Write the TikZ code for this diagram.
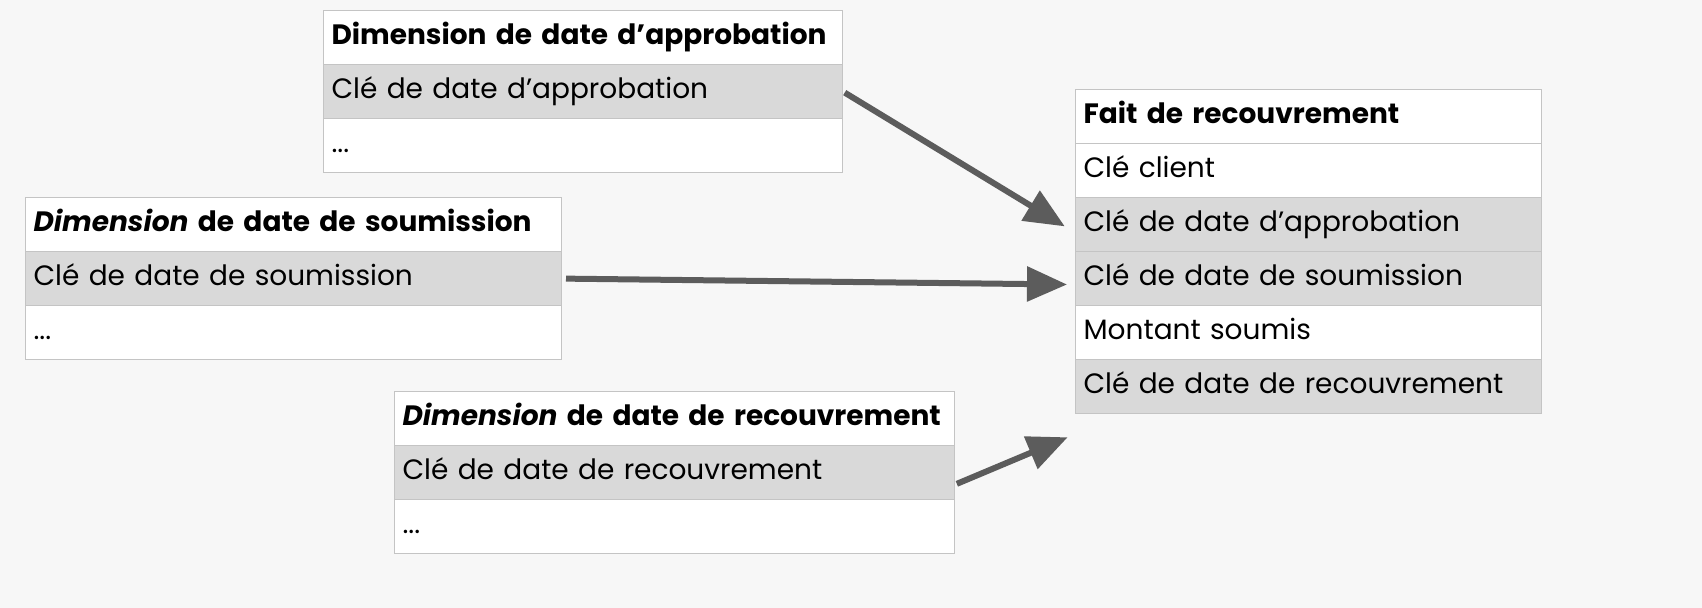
\documentclass[tikz,border=0pt]{standalone}
\usepackage{fontspec}
\setmainfont{Poppins}
\usetikzlibrary{arrows.meta}
\definecolor{rowgray}{HTML}{D9D9D9}
\definecolor{bordergray}{HTML}{C4C4C4}
\definecolor{arrowgray}{HTML}{5C5C5C}
\begin{document}
\begin{tikzpicture}[x=0.5pt,y=-0.5pt,
  cell/.style={draw=bordergray,line width=0.6pt,anchor=north west,minimum height=27pt,inner xsep=4pt,text height=10pt,text depth=3pt,align=left,text width=#1,font=\fontsize{14}{16}\selectfont},
  hdr/.style={cell=#1,fill=white,font=\fontsize{14}{16}\selectfont\bfseries},
  plain/.style={cell=#1,fill=white},
  shade/.style={cell=#1,fill=rowgray},
  conn/.style={draw=arrowgray,line width=3pt,-{Triangle[length=20pt,width=17pt]}}]
\useasboundingbox (0,0) rectangle (1702,608);
\fill[white!97!black] (0,0) rectangle (1702,608);
% A
\node[hdr=251.4pt] (a1) at (323,10) {Dimension de date d\symbol{39}approbation};
\node[shade=251.4pt] (a2) at (323,64) {Clé de date d’approbation};
\node[plain=251.4pt] (a3) at (323,118) {...};
% B
\node[hdr=259.9pt] (b1) at (25,197) {\textit{Dimension} de date de soumission};
\node[shade=259.9pt] (b2) at (25,251) {Clé de date de soumission};
\node[plain=259.9pt] (b3) at (25,305) {...};
% C
\node[hdr=271.9pt] (c1) at (394,391) {\textit{Dimension} de date de recouvrement};
\node[shade=271.9pt] (c2) at (394,445) {Clé de date de recouvrement};
\node[plain=271.9pt] (c3) at (394,499) {...};
% F
\node[hdr=224.9pt] (f1) at (1075,89) {Fait de recouvrement};
\node[plain=224.9pt] (f2) at (1075,143) {Clé client};
\node[shade=224.9pt] (f3) at (1075,197) {Clé de date d’approbation};
\node[shade=224.9pt] (f4) at (1075,251) {Clé de date de soumission};
\node[plain=224.9pt] (f5) at (1075,305) {Montant soumis};
\node[shade=224.9pt] (f6) at (1075,359) {Clé de date de recouvrement};
% connectors
\draw[conn,shorten <=1pt,shorten >=6pt] (a2.east) -- ([yshift=-4pt]f3.west);
\draw[conn,shorten <=2pt,shorten >=4pt] (b2.east) -- ([yshift=-3pt]f4.west);
\draw[conn,shorten <=1pt,shorten >=4pt] ([yshift=-6pt]c2.east) -- ([yshift=-10pt]f6.south west);
\end{tikzpicture}
\end{document}
